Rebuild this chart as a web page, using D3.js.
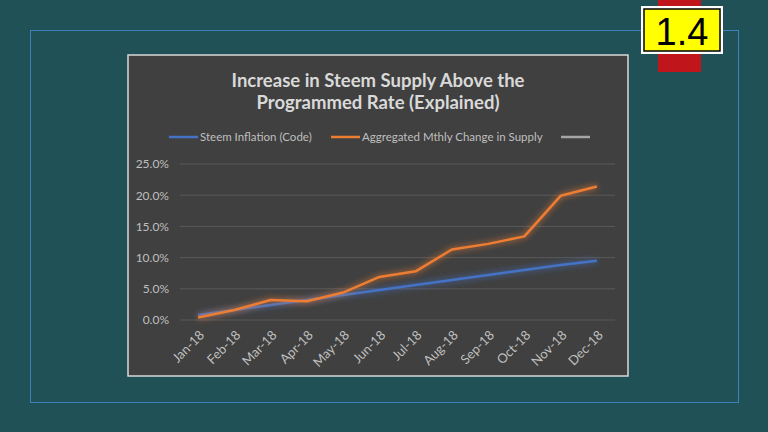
<!DOCTYPE html>
<html><head><meta charset="utf-8">
<script src="https://cdn.jsdelivr.net/npm/d3@7"></script>
<style>html,body{margin:0;padding:0;background:#1f5157;}svg{display:block}</style>
</head><body>
<svg id="c" width="768" height="432"></svg>
<script>
const categories = ["Jan-18","Feb-18","Mar-18","Apr-18","May-18","Jun-18","Jul-18","Aug-18","Sep-18","Oct-18","Nov-18","Dec-18"];
const inflationCode = [0.8,1.6,2.4,3.2,4.0,4.8,5.6,6.4,7.2,8.0,8.8,9.5];
const aggregatedChange = [0.4,1.6,3.2,3.0,4.4,6.9,7.8,11.3,12.2,13.4,19.9,21.4];
const yTicks = [0,5,10,15,20,25];
const seriesNames = ["Steem Inflation (Code)","Aggregated Mthly Change in Supply",""];
const seriesColors = ["#4472c4","#ed7d31","#a5a5a5"];

const svg = d3.select("#c");
svg.append("rect").attr("width",768).attr("height",432).attr("fill","#1f5157");
svg.append("rect").attr("x",30.5).attr("y",30.5).attr("width",708).attr("height",372)
  .attr("fill","none").attr("stroke","#3b82b8").attr("stroke-width",1);

// badge
svg.append("rect").attr("x",658).attr("y",0).attr("width",43).attr("height",72).attr("fill","#c0161b");
svg.append("rect").attr("x",641).attr("y",6).attr("width",82).attr("height",48).attr("fill","#ffffff");
svg.append("rect").attr("x",644).attr("y",9).attr("width",76).attr("height",42).attr("fill","#ffff00").attr("stroke","#000").attr("stroke-width",1.5);
svg.append("text").attr("x",682).attr("y",45).attr("text-anchor","middle")
  .attr("font-family","Liberation Sans, Arial, sans-serif").attr("font-size",38).attr("fill","#000").text("1.4");

// chart panel
svg.append("rect").attr("x",128).attr("y",55).attr("width",500).attr("height",321)
  .attr("fill","#404040").attr("stroke","#d9d9d9").attr("stroke-width",1.5);

const defs = svg.append("defs");
const f = defs.append("filter").attr("id","glow").attr("x","-10%").attr("y","-50%").attr("width","120%").attr("height","200%");
f.append("feGaussianBlur").attr("in","SourceGraphic").attr("stdDeviation",3).attr("result","b");
const m = f.append("feMerge");
m.append("feMergeNode").attr("in","b");
m.append("feMergeNode").attr("in","SourceGraphic");

const font = "Lato, 'Open Sans', sans-serif";
const title = svg.append("text").attr("text-anchor","middle").attr("font-family",font)
  .attr("font-weight","bold").attr("font-size",18.5).attr("fill","#d9d9d9");
title.append("tspan").attr("x",378).attr("y",87).text("Increase in Steem Supply Above the");
title.append("tspan").attr("x",378).attr("y",109).text("Programmed Rate (Explained)");

const x = d3.scaleBand().domain(categories).range([180,615]);
const y = d3.scaleLinear().domain([0,25]).range([320,164]);

// gridlines
svg.append("g").selectAll("line").data(yTicks).join("line")
  .attr("x1",180).attr("x2",615).attr("y1",d=>y(d)).attr("y2",d=>y(d))
  .attr("stroke","#595959").attr("stroke-width",1);

const yAxis = svg.append("g").attr("transform","translate(180,0)")
  .call(d3.axisLeft(y).tickValues(yTicks).tickSize(0).tickPadding(11).tickFormat(d=>d.toFixed(1)+"%"));
yAxis.select(".domain").remove();
yAxis.selectAll("text").attr("font-family",font).attr("font-size",12).attr("fill","#bfbfbf");

const xAxis = svg.append("g").attr("transform","translate(0,320)")
  .call(d3.axisBottom(x).tickSize(0).tickPadding(0));
xAxis.select(".domain").remove();
xAxis.selectAll("text").attr("font-family",font).attr("font-size",13).attr("fill","#bfbfbf")
  .attr("text-anchor","end").attr("dy",0)
  .attr("transform","translate(7,16) rotate(-45)");

const line = d3.line().x((d,i)=>x(categories[i])+x.bandwidth()/2).y(d=>y(d));
[inflationCode, aggregatedChange].forEach((s,i)=>{
  svg.append("path").datum(s).attr("d",line).attr("fill","none")
    .attr("stroke",seriesColors[i]).attr("stroke-width",2.5).attr("stroke-linejoin","round")
    .attr("filter","url(#glow)");
});

// legend
const legX = [169,331,561];
const lg = svg.append("g");
seriesNames.forEach((n,i)=>{
  lg.append("line").attr("x1",legX[i]).attr("x2",legX[i]+29).attr("y1",137).attr("y2",137)
    .attr("stroke",seriesColors[i]).attr("stroke-width",2.5);
  if(n) lg.append("text").attr("x",legX[i]+31).attr("y",141).attr("font-family",font)
    .attr("font-size",11.5).attr("fill","#bfbfbf").text(n);
});
</script>
</body></html>
